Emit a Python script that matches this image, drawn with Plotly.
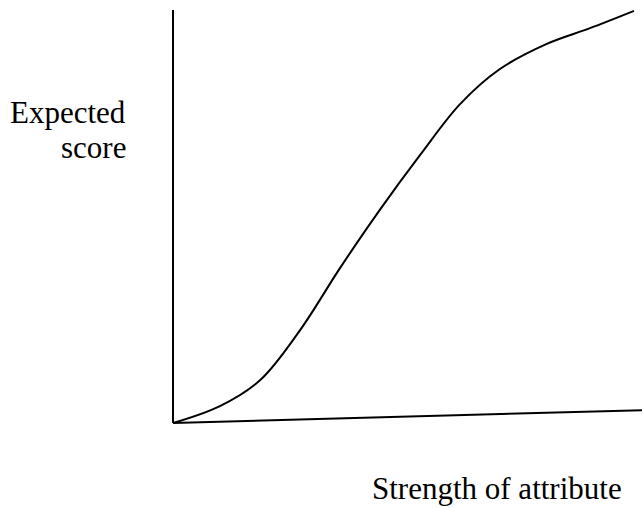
import plotly.graph_objects as go

# Schematic curve: strength of attribute (0-100) vs expected score (0-100)
strength = [0, 10.0, 18.6, 27.1, 35.6, 44.1, 52.7, 61.2, 69.7, 79.7, 88.9, 98.3]
expected = [0, 4.1, 10.4, 22.5, 37.5, 51.6, 64.9, 77.2, 85.7, 91.8, 95.6, 99.8]

# Axis lines (the x axis is drawn slightly tilted in the original)
x_axis_x = [0, 100]
x_axis_y = [0, 3.1]
y_axis_x = [0, 0]
y_axis_y = [0, 100]

y_label_lines = ["Expected", "score"]
x_label = "Strength of attribute"

FONT = "Liberation Serif, Times New Roman, serif"

fig = go.Figure()
fig.add_trace(go.Scatter(x=x_axis_x, y=x_axis_y, mode="lines",
                         line=dict(color="black", width=2), hoverinfo="skip"))
fig.add_trace(go.Scatter(x=y_axis_x, y=y_axis_y, mode="lines",
                         line=dict(color="black", width=2), hoverinfo="skip"))
fig.add_trace(go.Scatter(x=strength, y=expected, mode="lines",
                         line=dict(color="black", width=2, shape="spline", smoothing=1.0),
                         hoverinfo="skip"))

for txt, yp in zip(y_label_lines, [0.7795, 0.7106]):
    fig.add_annotation(text=txt, xref="paper", yref="paper", x=0.1994, y=yp,
                       xanchor="right", yanchor="middle", align="right", showarrow=False,
                       font=dict(family=FONT, size=31, color="black"))
fig.add_annotation(text=x_label, xref="paper", yref="paper", x=0.5763, y=0.039,
                   xanchor="left", yanchor="middle", align="left", showarrow=False,
                   font=dict(family=FONT, size=31, color="black"))

fig.update_layout(
    width=642, height=508,
    margin=dict(l=0, r=0, t=0, b=0),
    paper_bgcolor="white", plot_bgcolor="white",
    showlegend=False,
    xaxis=dict(range=[-36.89, 100], visible=False, fixedrange=True),
    yaxis=dict(range=[-20.58, 102.42], visible=False, fixedrange=True),
)

fig.write_html(
    "out.html",
    config={"displayModeBar": False},
    post_script="document.body.style.margin='0';document.body.style.overflow='hidden';",
)
